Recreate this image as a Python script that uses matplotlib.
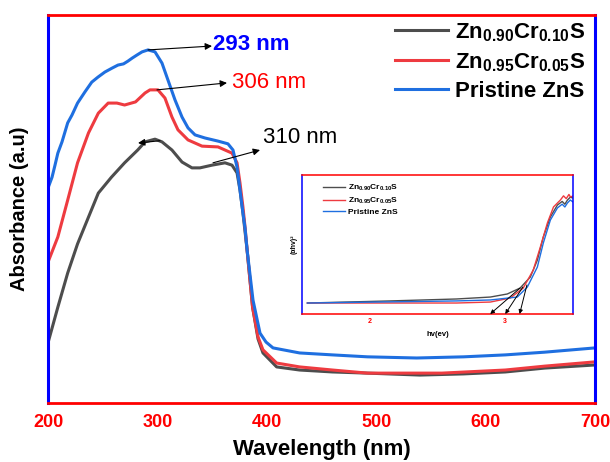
import matplotlib
matplotlib.use("Agg")
import matplotlib.pyplot as plt

plt.rcParams.update({"font.family": "Liberation Sans", "mathtext.fontset": "custom",
                     "mathtext.rm": "Liberation Sans:bold", "mathtext.bf": "Liberation Sans:bold",
                     "mathtext.it": "Liberation Sans:bold"})
BLUE, RED, GREY = "#1f6fe0", "#ee3b40", "#4d4d4d"

# ---- main UV-vis spectra ----
wl_blue = [200, 203.7, 206.4, 209, 212.8, 218, 221.9, 227, 233.8, 240, 245.7, 252, 258.5, 264, 269, 273, 277,
           281.4, 286, 291.4, 297.8, 304.2, 309.7, 316.1, 322.5, 328, 334.4, 343.5, 355.4, 364.5, 369.1, 372.8,
           375.5, 378.2, 380.1, 382, 387.4, 393.8, 399.3, 405.7, 430, 460, 492, 537, 580, 618, 654, 700]
abs_blue = [0.554, 0.582, 0.613, 0.644, 0.673, 0.722, 0.742, 0.773, 0.802, 0.827, 0.840, 0.853, 0.863, 0.871,
            0.874, 0.881, 0.889, 0.897, 0.905, 0.910, 0.905, 0.876, 0.832, 0.781, 0.737, 0.709, 0.691, 0.683,
            0.675, 0.668, 0.652, 0.608, 0.549, 0.490, 0.451, 0.394, 0.265, 0.180, 0.157, 0.142, 0.129, 0.124,
            0.119, 0.116, 0.119, 0.124, 0.131, 0.142]
wl_red = [200, 209, 218, 227, 237, 246, 255, 263, 270, 280, 288.7, 293.2, 300.5, 306.9, 313.3, 318.8, 328,
          340.8, 355.4, 368.2, 372.8, 375.5, 378.2, 380.1, 382, 387, 392, 396.5, 409, 430, 460, 492, 520, 560,
          618, 654, 700]
abs_red = [0.363, 0.428, 0.523, 0.619, 0.696, 0.747, 0.773, 0.773, 0.768, 0.776, 0.799, 0.807, 0.807, 0.786,
           0.737, 0.704, 0.678, 0.662, 0.660, 0.644, 0.619, 0.567, 0.505, 0.454, 0.394, 0.247, 0.170, 0.137,
           0.103, 0.093, 0.085, 0.077, 0.077, 0.077, 0.085, 0.095, 0.106]
wl_grey = [200, 209, 218, 227, 237, 246, 258, 270, 282, 288.7, 297.8, 304.2, 313.3, 322.5, 331.6, 338.9, 349.9,
           361.8, 368.2, 372.8, 375.5, 378.2, 382, 387, 392, 396.5, 409, 430, 460, 492, 540, 580, 618, 654, 700]
abs_grey = [0.155, 0.247, 0.335, 0.410, 0.479, 0.541, 0.582, 0.619, 0.652, 0.673, 0.680, 0.673, 0.652, 0.621,
            0.606, 0.606, 0.613, 0.619, 0.613, 0.593, 0.549, 0.490, 0.394, 0.247, 0.165, 0.129, 0.093, 0.085,
            0.080, 0.077, 0.072, 0.075, 0.080, 0.090, 0.098]

# ---- inset Tauc plot ----
ev_grey = [1.54, 2.15, 2.64, 2.89, 3.015, 3.11, 3.185, 3.237, 3.281, 3.333, 3.385, 3.42, 3.44, 3.459, 3.48, 3.5]
ta_grey = [0.079, 0.094, 0.108, 0.122, 0.144, 0.187, 0.266, 0.388, 0.554, 0.698, 0.784, 0.81, 0.79, 0.82, 0.84, 0.835]
ev_red = [1.54, 2.64, 2.89, 3.037, 3.133, 3.207, 3.259, 3.311, 3.356, 3.407, 3.43, 3.45, 3.47, 3.481, 3.5]
ta_red = [0.079, 0.079, 0.086, 0.115, 0.187, 0.317, 0.482, 0.655, 0.770, 0.820, 0.85, 0.83, 0.86, 0.842, 0.849]
ev_blue = [1.54, 2.64, 2.89, 3.089, 3.163, 3.237, 3.281, 3.333, 3.385, 3.42, 3.44, 3.459, 3.48, 3.5]
ta_blue = [0.079, 0.094, 0.101, 0.122, 0.194, 0.338, 0.511, 0.676, 0.763, 0.79, 0.77, 0.799, 0.82, 0.806]
gap_tail = [(3.11, 0.187), (3.13, 0.194), (3.16, 0.209)]
gap_head = [2.889, 3.0, 3.106]

labels = [r"Zn$_{0.90}$Cr$_{0.10}$S", r"Zn$_{0.95}$Cr$_{0.05}$S", "Pristine ZnS"]

fig = plt.figure(figsize=(6.1, 4.62), dpi=100)
ax = fig.add_axes([48 / 610, 1 - 403 / 462, 547 / 610, 388 / 462])
ax.plot(wl_grey, abs_grey, color=GREY, lw=2.2, label=labels[0], solid_joinstyle="round")
ax.plot(wl_red, abs_red, color=RED, lw=2.2, label=labels[1], solid_joinstyle="round")
ax.plot(wl_blue, abs_blue, color=BLUE, lw=2.2, label=labels[2], solid_joinstyle="round")
ax.set_xlim(200, 700)
ax.set_ylim(0, 1)
ax.set_yticks([])
ax.set_xticks([200, 300, 400, 500, 600, 700])
ax.tick_params(axis="x", length=0, pad=8, labelsize=13, labelcolor="red")
for t in ax.get_xticklabels():
    t.set_fontweight("bold")
for s in ("left", "right"):
    ax.spines[s].set_color("blue"); ax.spines[s].set_linewidth(2.2)
for s in ("top", "bottom"):
    ax.spines[s].set_color("red"); ax.spines[s].set_linewidth(2.0)
ax.set_xlabel("Wavelength (nm)", fontsize=16, fontweight="bold", labelpad=6)
ax.set_ylabel("Absorbance (a.u)", fontsize=14.5, fontweight="bold", labelpad=14)

arr = dict(arrowstyle="-|>", color="k", lw=0.8, mutation_scale=10, shrinkA=0, shrinkB=0)
ax.annotate("", xy=(349.9, 0.920), xytext=(291.4, 0.910), arrowprops=arr)
ax.text(350.5, 0.923, "293 nm", color="blue", fontsize=16, fontweight="bold", va="center")
ax.annotate("", xy=(363.6, 0.825), xytext=(299.6, 0.807), arrowprops=arr)
ax.text(367.8, 0.825, "306 nm", color="red", fontsize=16, va="center")
ax.annotate("", xy=(282.3, 0.670), xytext=(302.4, 0.676), arrowprops=arr)
ax.annotate("", xy=(393.8, 0.652), xytext=(350.8, 0.619), arrowprops=arr)
ax.text(396.5, 0.683, "310 nm", color="black", fontsize=16, va="center")

ax.legend(loc="upper left", bbox_to_anchor=(395 / 610, 1 - 21 / 462), bbox_transform=fig.transFigure,
          frameon=False, borderpad=0, borderaxespad=0, handlelength=2.4, handletextpad=0.3,
          labelspacing=0.33, prop={"weight": "bold", "size": 16})

# ---- inset ----
ins = fig.add_axes([302 / 610, 1 - 314 / 462, 271 / 610, 139 / 462])
ins.plot(ev_grey, ta_grey, color=GREY, lw=1.0, label=labels[0])
ins.plot(ev_red, ta_red, color=RED, lw=1.0, label=labels[1])
ins.plot(ev_blue, ta_blue, color=BLUE, lw=1.0, label=labels[2])
for (xt, yt), xh in zip(gap_tail, gap_head):
    ins.annotate("", xy=(xh, 0), xytext=(xt, yt),
                 arrowprops=dict(arrowstyle="-|>", color="k", lw=0.7, mutation_scale=6, shrinkA=0, shrinkB=0))
ins.set_xlim(1.5, 3.5)
ins.set_ylim(0, 1)
ins.set_yticks([])
ins.set_xticks([2, 3])
ins.tick_params(axis="x", length=0, pad=3, labelsize=5, labelcolor="red")
for t in ins.get_xticklabels():
    t.set_fontweight("bold")
for s in ("left", "right"):
    ins.spines[s].set_color("blue"); ins.spines[s].set_linewidth(1.1)
for s in ("top", "bottom"):
    ins.spines[s].set_color("red"); ins.spines[s].set_linewidth(1.1)
ins.set_xlabel("hv(ev)", fontsize=5.5, fontweight="bold", labelpad=4)
ins.set_ylabel("(αhv)²", fontsize=5, fontweight="bold", labelpad=3)
ins.legend(loc="upper left", bbox_to_anchor=(323 / 610, 1 - 183 / 462), bbox_transform=fig.transFigure,
           frameon=False, borderpad=0, borderaxespad=0, handlelength=2.6, handletextpad=0.4,
           labelspacing=0.3, prop={"weight": "bold", "size": 6})

fig.savefig("out.png", dpi=100)
